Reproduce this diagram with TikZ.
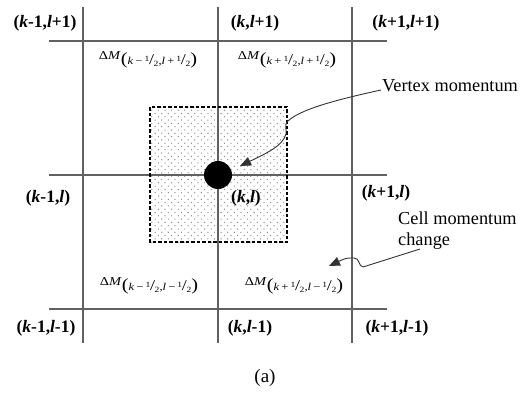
\documentclass[tikz,border=0pt]{standalone}
\usepackage{fontspec}
\setmainfont{Liberation Serif}
\usepackage{graphicx}
\usetikzlibrary{patterns,arrows.meta}
\pgfdeclarepatternformonly{sparsedots}{\pgfqpoint{-1pt}{-1pt}}{\pgfqpoint{5pt}{5pt}}{\pgfqpoint{6.6pt}{6.6pt}}{%
  \pgfpathcircle{\pgfqpoint{0pt}{0pt}}{0.65pt}%
  \pgfpathcircle{\pgfqpoint{3.3pt}{3.3pt}}{0.65pt}%
  \pgfusepath{fill}}
\newcommand{\hf}{\raisebox{3.5pt}{\fontsize{8}{8}\selectfont 1}\kern-0.3pt{\fontsize{15}{15}\selectfont/}\kern-0.3pt\raisebox{-2pt}{\fontsize{8}{8}\selectfont 2}}
\newcommand{\dM}[2]{\scalebox{1.2}[1]{{\fontsize{12}{12}\selectfont Δ\textit{M}}\raisebox{-5pt}{{\fontsize{17}{17}\selectfont(}{\fontsize{10.5}{10.5}\selectfont\textit{k}\,#1\,\hf,\textit{l}\,#2\,\hf}{\fontsize{17}{17}\selectfont)}}}}
\begin{document}
\begin{tikzpicture}[x=1pt,y=-1pt,
  gridline/.style={draw=black!62,line width=1.2pt},
  lbl/.style={font=\fontsize{17.5}{20}\selectfont\bfseries, inner sep=0pt},
  note/.style={font=\fontsize{18.3}{21}\selectfont, inner sep=0pt, align=left},
  dmlbl/.style={inner sep=0pt},
  arr/.style={draw=black!80, line width=0.9pt, -{Triangle[length=11pt,width=9pt]}}]
\useasboundingbox (0,0) rectangle (525,394);
\fill[pattern=sparsedots, pattern color=black!50] (150,107) rectangle (287,242);
\foreach \x in {83,218,352} \draw[gridline] (\x,7) -- (\x,343);
\foreach \y in {41,175,309} \draw[gridline] (49,\y) -- (387,\y);
\draw[line width=1.4pt, dash pattern=on 3.5pt off 2pt] (150,107) rectangle (287,242);
\node[circle, fill=black, minimum size=28pt, inner sep=0pt] (vtx) at (218,175) {};
% grid labels
\node[lbl] (a1) at (45,23) {(\textit{k}-1,\textit{l}+1)};
\node[lbl] (a2) at (255,23) {(\textit{k},\textit{l}+1)};
\node[lbl] (a3) at (406,23) {(\textit{k}+1,\textit{l}+1)};
\node[lbl] (b1) at (48,198) {(\textit{k}-1,\textit{l})};
\node[lbl] (b2) at (246,198) {(\textit{k},\textit{l})};
\node[lbl] (b3) at (386,193) {(\textit{k}+1,\textit{l})};
\node[lbl] (c1) at (46,328) {(\textit{k}-1,\textit{l}-1)};
\node[lbl] (c2) at (250,328) {(\textit{k},\textit{l}-1)};
\node[lbl] (c3) at (397,328) {(\textit{k}+1,\textit{l}-1)};
% cell labels
\node[dmlbl] (m1) at (148,60) {\dM{−}{+}};
\node[dmlbl] (m2) at (287,60) {\dM{+}{+}};
\node[dmlbl] (m3) at (149,286) {\dM{−}{−}};
\node[dmlbl] (m4) at (294,286) {\dM{+}{−}};
% notes
\node[note, anchor=west] (vm) at (382,86) {Vertex momentum};
\node[note, anchor=north west] (cm) at (398,212) {Cell momentum\\change};
\node[font=\fontsize{19}{20}\selectfont, inner sep=0pt] (cap) at (265,378) {(a)};
% arrows
\coordinate (vmstart) at (381,90);
\coordinate (vmtip) at (240,166);
\draw[arr] (vmstart) .. controls (335,100) and (298,110) .. (287,122)
  .. controls (284,126) and (287,130) .. (286,134)
  .. controls (283,146) and (265,154) .. (vmtip);
\coordinate (cmstart) at (420,249);
\coordinate (cmtip) at (329,266);
\draw[arr] (cmstart) -- (363,267) .. controls (358,266) and (360,258) .. (354,258)
  .. controls (346,258) .. (cmtip);
\end{tikzpicture}
\end{document}
